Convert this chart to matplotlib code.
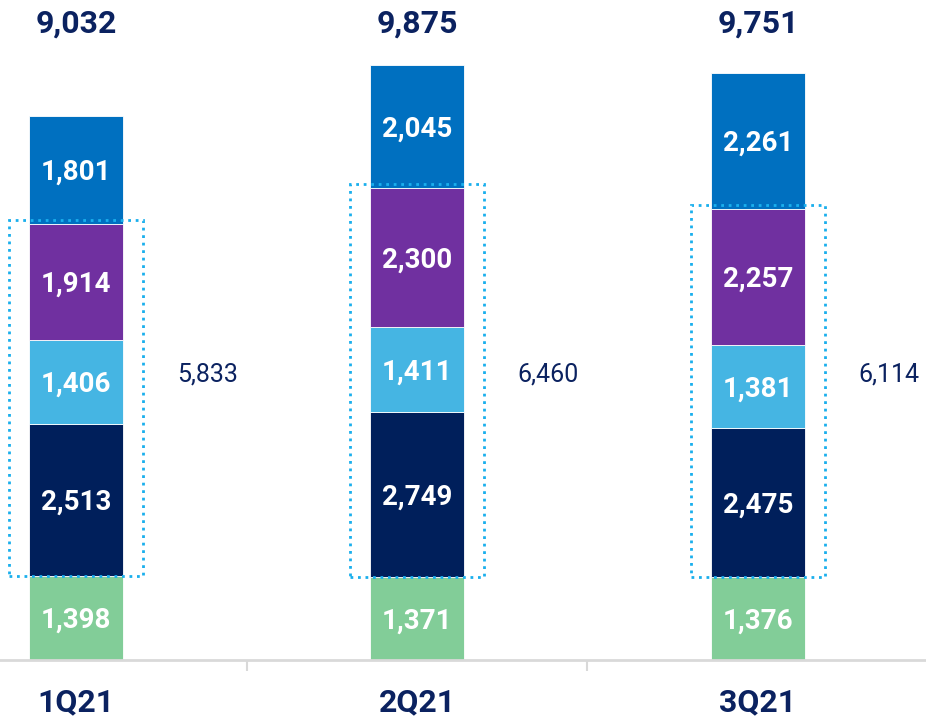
"""
Quarterly stacked bars with dotted group boxes
"""
import matplotlib.pyplot as plt
from matplotlib.patches import Rectangle

plt.rcParams['font.family'] = ['Roboto', 'DejaVu Sans']

quarters = ['1Q21', '2Q21', '3Q21']
green = [1398, 1371, 1376]
navy = [2513, 2749, 2475]
light_blue = [1406, 1411, 1381]
purple = [1914, 2300, 2257]
blue = [1801, 2045, 2261]
totals = ['9,032', '9,875', '9,751']
subtotals = ['5,833', '6,460', '6,114']

series = [green, navy, light_blue, purple, blue]
colors = ['#82CD98', '#001F5B', '#45B5E3', '#7030A0', '#0070C0']
text_navy = '#0B2260'

fig = plt.figure(figsize=(9.26, 7.17), dpi=100)
ax = fig.add_axes([0, 57 / 717, 1, 660 / 717])

x = list(range(len(quarters)))
width = 0.276
bottom = [0] * len(quarters)
for vals, col in zip(series, colors):
    ax.bar(x, vals, width=width, bottom=bottom, color=col,
           edgecolor='white', linewidth=0.6, zorder=2)
    for i, v in enumerate(vals):
        ax.annotate(f'{v:,}', xy=(x[i], bottom[i] + v / 2), xytext=(0, -7.2),
                    textcoords='offset points', ha='center', va='baseline',
                    color='white', fontsize=20, fontweight='bold', zorder=3)
    bottom = [b + v for b, v in zip(bottom, vals)]

# dotted boxes round the middle three segments
for i in x:
    lo = green[i]
    hi = green[i] + navy[i] + light_blue[i] + purple[i] + 70
    ax.add_patch(Rectangle((i - 0.1965, lo), 0.393, hi - lo, fill=False,
                           edgecolor='#1AAFED', linewidth=2.0,
                           linestyle=(0, (1, 1.7)), zorder=4, clip_on=False))
    ax.text(i + 0.385, 4630, subtotals[i], ha='center', va='baseline',
            fontsize=18, color=text_navy)
    ax.text(i, 10407, totals[i], ha='center', va='baseline',
            fontsize=23, fontweight='bold', color=text_navy)
    ax.text(i, -0.0773, quarters[i], ha='center', va='baseline',
            fontsize=23, fontweight='bold', color=text_navy,
            transform=ax.get_xaxis_transform(), clip_on=False)

ax.set_xlim(-0.223, 2.493)
ax.set_ylim(0, 10954)
ax.set_yticks([])
ax.set_xticks([])
ax.set_xticks([0.5, 1.5], minor=True)
ax.tick_params(axis='x', which='minor', length=8, width=1.5, color='#D9D9D9')
for s in ['top', 'right', 'left']:
    ax.spines[s].set_visible(False)
ax.spines['bottom'].set_color('#D9D9D9')
ax.spines['bottom'].set_linewidth(2)

plt.savefig('out.png', dpi=100, facecolor='white')
plt.close()
